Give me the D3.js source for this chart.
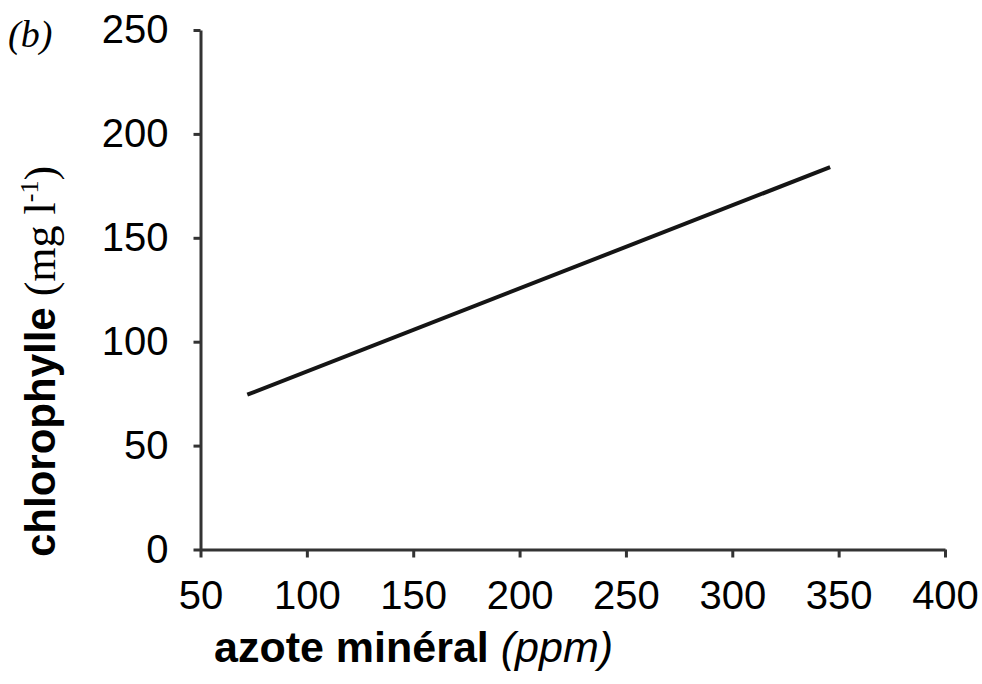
<!DOCTYPE html>
<html lang="fr">
<head>
    <meta charset="UTF-8">
    <title>chlorophylle vs azote minéral</title>
    <script src="https://d3js.org/d3.v7.min.js"></script>
    <style>
        body {
            margin: 0;
            background: #fff;
        }
        .tick text {
            font-family: Arial, "Liberation Sans", sans-serif;
            font-size: 40px;
            fill: #000;
        }
        .axis path, .axis line {
            stroke: #333;
            stroke-width: 3px;
        }
        .fit-line {
            fill: none;
            stroke: #151515;
            stroke-width: 4px;
        }
    </style>
</head>
<body>
    <svg id="chart" width="982" height="684"></svg>

    <script>
        // données
        const xTicks = [50, 100, 150, 200, 250, 300, 350, 400];
        const yTicks = [0, 50, 100, 150, 200, 250];
        const azote = [72, 346];          // ppm
        const chlorophylle = [74.5, 184]; // mg l-1

        const svg = d3.select('#chart');

        const plot = { left: 200.5, right: 945, top: 30, bottom: 549.5 };

        const x = d3.scaleLinear().domain([50, 400]).range([plot.left, plot.right]);
        const y = d3.scaleLinear().domain([0, 250]).range([plot.bottom, plot.top]);

        // axe x
        const xAxis = svg.append('g')
            .attr('class', 'axis')
            .attr('transform', `translate(0,${plot.bottom})`)
            .call(d3.axisBottom(x).tickValues(xTicks).tickSize(8).tickSizeOuter(0));
        xAxis.selectAll('.tick text').attr('y', 59).attr('dy', 0);

        // axe y
        svg.append('g')
            .attr('class', 'axis')
            .attr('transform', `translate(${plot.left},0)`)
            .call(d3.axisLeft(y).tickValues(yTicks).tickSize(7).tickPadding(25).tickSizeOuter(0));

        // droite
        const pts = azote.map((d, i) => [d, chlorophylle[i]]);
        svg.append('path')
            .attr('class', 'fit-line')
            .attr('d', d3.line().x(d => x(d[0])).y(d => y(d[1]))(pts));

        // titres
        const xt = svg.append('text')
            .attr('x', 214)
            .attr('y', 662)
            .attr('font-family', 'Arial, "Liberation Sans", sans-serif')
            .attr('font-size', 43);
        xt.append('tspan').attr('font-weight', 'bold').text('azote minéral ');
        xt.append('tspan').attr('font-style', 'italic').text('(ppm)');

        const serif = '"Liberation Serif", "Times New Roman", serif';
        const yt = svg.append('text')
            .attr('transform', 'rotate(-90)')
            .attr('x', -557)
            .attr('y', 55);
        yt.append('tspan')
            .attr('font-family', 'Arial, "Liberation Sans", sans-serif')
            .attr('font-weight', 'bold')
            .attr('font-size', 42)
            .text('chlorophylle');
        yt.append('tspan')
            .attr('font-family', serif)
            .attr('font-size', 44)
            .text(' (mg l');
        yt.append('tspan')
            .attr('font-family', serif)
            .attr('font-size', 26)
            .attr('dy', -17)
            .text('-1');
        yt.append('tspan')
            .attr('font-family', serif)
            .attr('font-size', 44)
            .attr('dy', 17)
            .text(')');

        svg.append('text')
            .attr('x', 8)
            .attr('y', 47)
            .attr('font-family', serif)
            .attr('font-style', 'italic')
            .attr('font-size', 38)
            .text('(b)');
    </script>
</body>
</html>
